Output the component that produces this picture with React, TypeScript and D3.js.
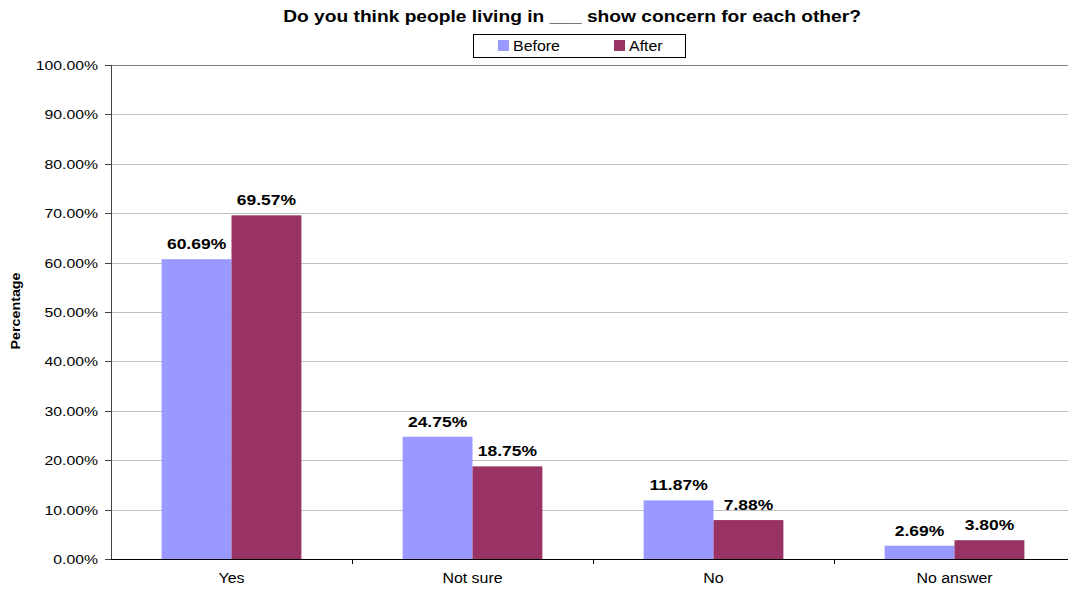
import React from "react";
import * as d3 from "d3";

const categories = ["Yes", "Not sure", "No", "No answer"];
const seriesNames = ["Before", "After"];
const beforeValues = [60.69, 24.75, 11.87, 2.69];
const afterValues = [69.57, 18.75, 7.88, 3.8];
const yTicks = [0, 10, 20, 30, 40, 50, 60, 70, 80, 90, 100];
const colors = ["#9999FF", "#993366"];

const W = 1068;
const H = 590;
const left = 111;
const right = 1075;
const top = 65;
const bottom = 559;
const font = "'Liberation Sans', Arial, sans-serif";

function T(props: { x: number; y: number; sx: number; size: number; bold?: boolean; anchor?: string; rotate?: number; children: React.ReactNode }) {
  const { x, y, sx, size, bold, anchor, rotate, children } = props;
  return (
    <text transform={`translate(${x},${y}) rotate(${rotate || 0}) scale(${sx},1)`} fontSize={size}
      fontWeight={bold ? "bold" : "normal"} textAnchor={anchor || "start"}>
      {children}
    </text>
  );
}

export default function App() {
  const x = d3.scaleBand<string>().domain(categories).range([left, right]).paddingInner(0.42).paddingOuter(0.21);
  const x0 = d3.scaleBand<string>().domain(categories).range([left, right]);
  const y = d3.scaleLinear().domain([0, 100]).range([bottom, top]);
  const inner = d3.scaleBand<string>().domain(seriesNames).range([0, x.bandwidth()]);
  const series = [beforeValues, afterValues];

  return (
    <svg width={W} height={H} style={{ position: "absolute", left: 0, top: 0, background: "#fff" }} fontFamily={font}>
      <T x={572} y={22} sx={1.2} size={16} bold anchor="middle">
        Do you think people living in ___ show concern for each other?
      </T>
      {/* legend */}
      <rect x={473.5} y={34.5} width={212} height={23} fill="#fff" stroke="#000" strokeWidth={1} />
      {seriesNames.map((s, i) => (
        <g key={s}>
          <rect x={498 + i * 116} y={40} width={11} height={11} fill={colors[i]} />
          <T x={513 + i * 116} y={51} sx={1.1} size={14.5}>{s}</T>
        </g>
      ))}
      {/* gridlines */}
      {yTicks.map((t) => (
        <line key={t} x1={left} x2={right} y1={Math.round(y(t)) + 0.5} y2={Math.round(y(t)) + 0.5}
          stroke={t === 100 ? "#808080" : "#c0c0c0"} strokeWidth={1} />
      ))}
      {/* bars */}
      {series.map((vals, si) =>
        categories.map((c, ci) => (
          <rect key={c + si} x={(x(c) as number) + (inner(seriesNames[si]) as number)} y={y(vals[ci])}
            width={inner.bandwidth()} height={bottom - y(vals[ci])} fill={colors[si]} />
        ))
      )}
      {/* labels */}
      {series.map((vals, si) =>
        categories.map((c, ci) => (
          <T key={"l" + c + si} x={(x(c) as number) + (inner(seriesNames[si]) as number) + inner.bandwidth() / 2}
            y={y(vals[ci]) - 10} sx={1.25} size={14} bold anchor="middle">
            {vals[ci].toFixed(2)}%
          </T>
        ))
      )}
      {/* y axis */}
      <line x1={left + 0.5} x2={left + 0.5} y1={top} y2={bottom} stroke="#404040" strokeWidth={1} />
      {yTicks.map((t) => (
        <g key={"t" + t}>
          <line x1={left - 6} x2={left} y1={Math.round(y(t)) + 0.5} y2={Math.round(y(t)) + 0.5} stroke="#404040" />
          <T x={98} y={y(t) + 5} sx={1.17} size={13.5} anchor="end">{t.toFixed(2)}%</T>
        </g>
      ))}
      {/* x axis */}
      <line x1={left} x2={right} y1={bottom + 0.5} y2={bottom + 0.5} stroke="#000" strokeWidth={1} />
      {categories.map((c, i) => (
        <g key={"x" + c}>
          {i > 0 && <line x1={Math.round(x0(c) as number) + 0.5} x2={Math.round(x0(c) as number) + 0.5} y1={bottom} y2={bottom + 5} stroke="#000" />}
          <T x={(x0(c) as number) + x0.bandwidth() / 2} y={583} sx={1.1} size={14.5} anchor="middle">{c}</T>
        </g>
      ))}
      <T x={20} y={311} rotate={-90} sx={1.1} size={13} bold anchor="middle">Percentage</T>
    </svg>
  );
}
